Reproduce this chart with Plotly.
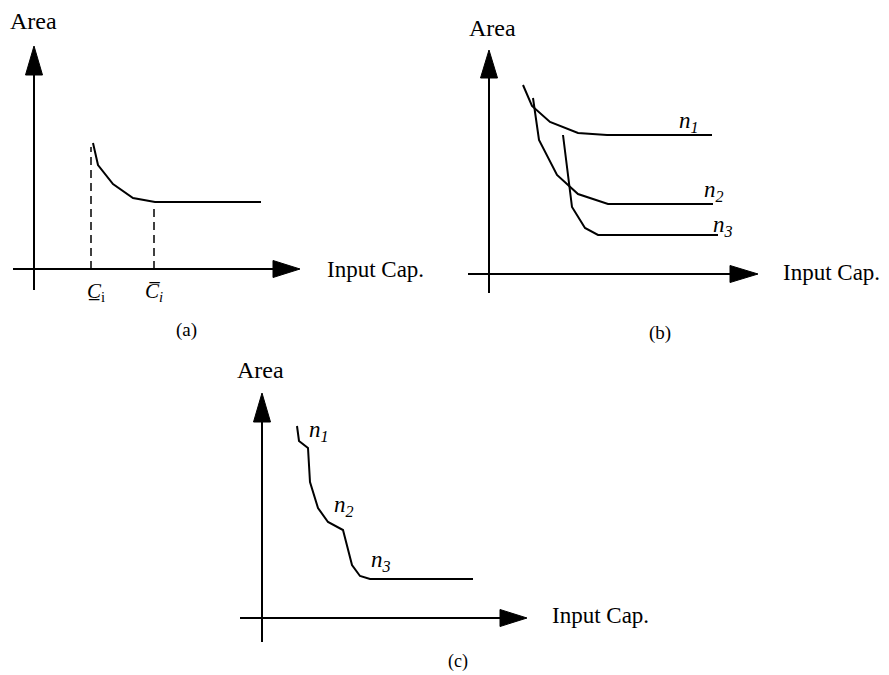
import plotly.graph_objects as go

W, H = 889, 675

# ---- data (arbitrary units, origin at axis crossing) ----
# Panel (a)
a_cap = [59, 64, 79, 99, 121, 227]
a_area = [126, 104, 85, 71, 67, 67]
a_cmin, a_cmax = 57, 120          # C_i lower / upper bound positions
# Panel (b)
b_n1_cap = [34, 43, 61, 89, 118, 223]
b_n1_area = [189, 168, 152, 141, 139, 139]
b_n2_cap = [44, 50, 68, 89, 119, 224]
b_n2_area = [176, 134, 99, 80, 70, 70]
b_n3_cap = [74, 83, 96, 109, 229]
b_n3_area = [139, 67, 46, 39, 39]
b_labels = ["n1", "n2", "n3"]
b_label_x = [200, 225, 234]
b_label_y = [152, 83, 48]
# Panel (c)
c_cap = [35, 37, 46, 48, 56, 66, 81, 90, 98, 108, 211]
c_area = [192, 177, 170, 136, 110, 96, 88, 53, 42, 39, 39]
c_label_x = [57, 82, 119]
c_label_y = [187, 112, 57]

# ---- panel geometry (pixels) ----
panels = {
    # name: (x0px, x1px, y0px(top), y1px(bottom), origin_px_x, origin_px_y)
    "a": (0, 450, 0, 345, 34, 269),
    "b": (455, 889, 0, 345, 489, 274),
    "c": (225, 700, 345, 675, 262, 618),
}
# axis extents in data units: (neg, base, tip)
axis_ext = {
    "a": dict(h=(-21, 239, 266), v=(-21, 194, 223)),
    "b": dict(h=(-21, 241, 269), v=(-19, 196, 224)),
    "c": dict(h=(-22, 238, 265), v=(-24, 196, 225)),
}
axes_ids = {"a": ("x", "y"), "b": ("x2", "y2"), "c": ("x3", "y3")}

fig = go.Figure()
layout_axes = {}
for i, (name, (x0, x1, y0, y1, ox, oy)) in enumerate(panels.items()):
    suffix = "" if i == 0 else str(i + 1)
    layout_axes["xaxis" + suffix] = dict(
        domain=[x0 / W, x1 / W], range=[x0 - ox, x1 - ox], visible=False,
        anchor="y" + suffix, fixedrange=True)
    layout_axes["yaxis" + suffix] = dict(
        domain=[1 - y1 / H, 1 - y0 / H], range=[oy - y1, oy - y0], visible=False,
        anchor="x" + suffix, fixedrange=True)

BLACK = "black"
FONT = "Liberation Serif"


def add_axes(name):
    xr, yr = axes_ids[name]
    e = axis_ext[name]
    hn, hb, ht = e["h"]
    vn, vb, vt = e["v"]
    hw = 8.5
    fig.add_trace(go.Scatter(x=[hn, hb], y=[0, 0], mode="lines",
                             line=dict(color=BLACK, width=2), xaxis=xr, yaxis=yr,
                             hoverinfo="skip"))
    fig.add_trace(go.Scatter(x=[0, 0], y=[vn, vb], mode="lines",
                             line=dict(color=BLACK, width=2), xaxis=xr, yaxis=yr,
                             hoverinfo="skip"))
    fig.add_trace(go.Scatter(x=[hb, ht, hb, hb], y=[-hw, 0, hw, -hw], mode="lines",
                             fill="toself", fillcolor=BLACK, line=dict(color=BLACK, width=1),
                             xaxis=xr, yaxis=yr, hoverinfo="skip"))
    fig.add_trace(go.Scatter(x=[-hw, 0, hw, -hw], y=[vb, vt, vb, vb], mode="lines",
                             fill="toself", fillcolor=BLACK, line=dict(color=BLACK, width=1),
                             xaxis=xr, yaxis=yr, hoverinfo="skip"))


def curve(x, y, name, dash=None, width=2):
    xr, yr = axes_ids[name]
    fig.add_trace(go.Scatter(x=x, y=y, mode="lines",
                             line=dict(color=BLACK, width=width, dash=dash),
                             xaxis=xr, yaxis=yr, hoverinfo="skip"))


def text(name, x, y, s, size=23, xanchor="center", yanchor="middle"):
    xr, yr = axes_ids[name]
    fig.add_annotation(x=x, y=y, xref=xr, yref=yr, text=s, showarrow=False,
                       xanchor=xanchor, yanchor=yanchor,
                       font=dict(family=FONT, size=size, color=BLACK))


for p in panels:
    add_axes(p)

# Panel (a)
curve(a_cap, a_area, "a")
curve([a_cmin, a_cmin], [0, a_area[0] - 4], "a", dash="8px,5px", width=1.5)
curve([a_cmax, a_cmax], [0, a_area[-1] - 3], "a", dash="8px,5px", width=1.5)
text("a", a_cmin + 5, -8, "<i>C\u0332</i><sub>i</sub>", size=21, yanchor="top")
text("a", a_cmax, -8, "<i>C\u0305<sub>i</sub></i>", size=21, yanchor="top")

# Panel (b)
curve(b_n1_cap, b_n1_area, "b")
curve(b_n2_cap, b_n2_area, "b")
curve(b_n3_cap, b_n3_area, "b")
for lab, lx, ly in zip(b_labels, b_label_x, b_label_y):
    text("b", lx, ly, "<i>n<sub>%s</sub></i>" % lab[1:], size=23)

# Panel (c)
curve(c_cap, c_area, "c")
for lab, lx, ly in zip(b_labels, c_label_x, c_label_y):
    text("c", lx, ly, "<i>n<sub>%s</sub></i>" % lab[1:], size=23)

# Axis titles and captions
text("a", -1, 248, "Area", size=24)
text("b", 3, 246, "Area", size=24)
text("c", -2, 248, "Area", size=24)
text("a", 291, 0, "Input Cap.", xanchor="left")
text("b", 292, 2, "Input Cap.", xanchor="left")
text("c", 288, 3, "Input Cap.", xanchor="left")
text("a", 152, -61, "(a)", size=19)
text("b", 171, -59, "(b)", size=19)
text("c", 196, -43, "(c)", size=18)

fig.update_layout(width=W, height=H, margin=dict(l=0, r=0, t=0, b=0),
                  paper_bgcolor="white", plot_bgcolor="white", showlegend=False,
                  **layout_axes)

fig.write_html("out.html", config={"displayModeBar": False},
               post_script="document.body.style.margin='0px';")
